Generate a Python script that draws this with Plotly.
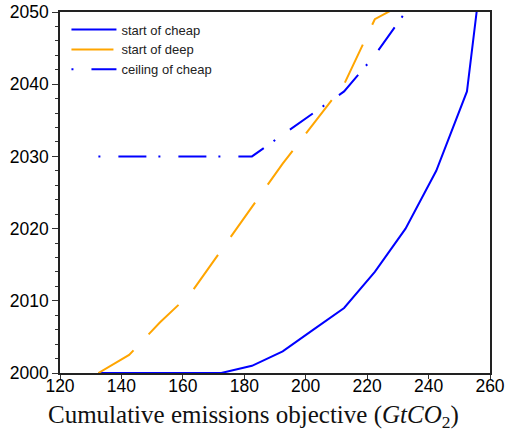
import plotly.graph_objects as go

objective = [132.5, 142.5, 152.5, 162.5, 172.5, 182.5, 192.5, 202.5, 212.5, 222.5, 232.5, 242.5, 252.5, 262.5]
start_cheap = [2000, 2000, 2000, 2000, 2000, 2001, 2003, 2006, 2009, 2014, 2020, 2028, 2039, 2074]
start_deep = [2000, 2002.5, 2007, 2011, 2017, 2023, 2029, 2034.5, 2040, 2049, 2051.3]
ceiling_cheap = [2030, 2030, 2030, 2030, 2030, 2030, 2033, 2036, 2039, 2044, 2050]

x_ticks = [120, 140, 160, 180, 200, 220, 240, 260]
y_ticks = [2000, 2010, 2020, 2030, 2040, 2050]

fig = go.Figure()
fig.add_trace(go.Scatter(x=objective, y=start_cheap, mode="lines", name="start of cheap",
                         line=dict(color="#0000ff", width=2)))
fig.add_trace(go.Scatter(x=objective[:len(start_deep)], y=start_deep, mode="lines", name="start of deep",
                         line=dict(color="#ffa500", width=2, dash="42px,22px")))
fig.add_trace(go.Scatter(x=objective[:len(ceiling_cheap)], y=ceiling_cheap, mode="lines", name="ceiling of cheap",
                         line=dict(color="#0000ff", width=2, dash="2px,18px,28px,12px")))

fig.update_layout(
    width=505, height=430,
    margin=dict(l=60, r=15, t=12, b=57, autoexpand=False),
    paper_bgcolor="white", plot_bgcolor="white",
    font=dict(family="Liberation Sans, Arial, sans-serif", color="black"),
    showlegend=True,
    legend=dict(x=0.015, y=0.993, xanchor="left", yanchor="top", bgcolor="rgba(0,0,0,0)",
                font=dict(size=13, color="#222"), itemwidth=45, tracegroupgap=0),
    xaxis=dict(range=[120, 260], tickvals=x_ticks, ticks="outside", ticklen=4, tickwidth=1,
               tickcolor="#333", showgrid=False, zeroline=False, showline=True, linecolor="#222",
               linewidth=1.5, mirror=True, tickfont=dict(size=17.5), layer="below traces",
               automargin=False, ticklabelstandoff=-8),
    yaxis=dict(range=[2000, 2050], tickvals=y_ticks, ticks="outside", ticklen=6, tickwidth=1,
               tickcolor="#333", showgrid=False, zeroline=False, showline=True, linecolor="#222",
               linewidth=1.5, mirror=True, tickfont=dict(size=17.5), layer="below traces",
               automargin=False,
               minor=dict(dtick=2, ticks="outside", ticklen=3, tickcolor="#333", showgrid=False)),
    annotations=[dict(text="Cumulative emissions objective (<i>GtCO</i><sub>2</sub>)",
                      xref="paper", yref="paper", x=(253 - 60) / 430, y=0, yshift=-26,
                      xanchor="center", yanchor="top", showarrow=False,
                      font=dict(family="Liberation Serif, Times New Roman, serif", size=25, color="#111"))],
)

fig.write_html("out.html", config={"displayModeBar": False},
               post_script="document.body.style.margin='0';document.body.style.overflow='hidden';")
